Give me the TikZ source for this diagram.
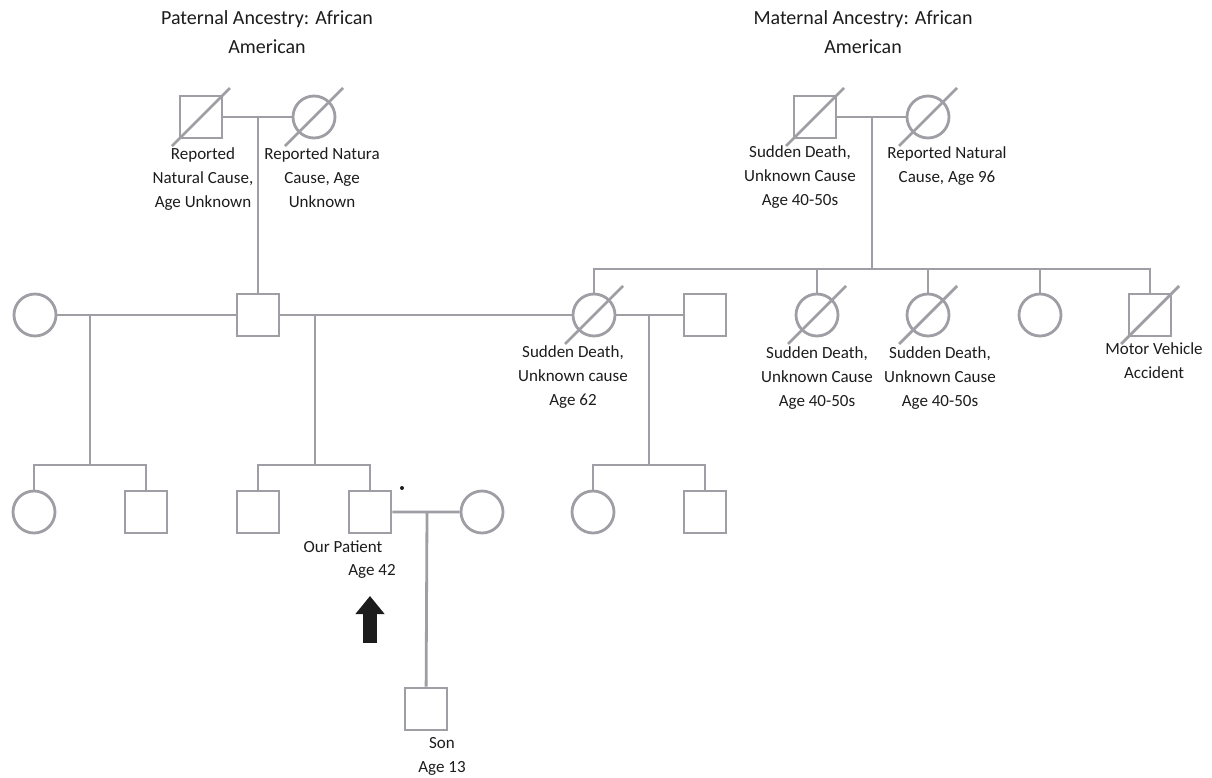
\documentclass[tikz,border=0pt]{standalone}
\usepackage{fontspec}
\setmainfont{Carlito}
\usetikzlibrary{arrows.meta}
\definecolor{pedgray}{RGB}{158,158,164}
\definecolor{txt}{RGB}{28,28,28}

\begin{document}
\begin{tikzpicture}[x=1pt,y=-1pt,line width=2.8pt,color=pedgray,
        male/.style={draw,rectangle,minimum size=42pt,inner sep=0pt},
        female/.style={draw,circle,minimum size=42pt,inner sep=0pt},
        lbl/.style={text=txt,align=center,inner sep=0pt,font=\fontsize{17}{24}\selectfont},
        ttl/.style={text=txt,align=center,inner sep=0pt,font=\fontsize{20}{29}\selectfont}]
        \useasboundingbox (0,0) rectangle (1212,777);

        \node[ttl] (patttl) at (267,32) {Paternal Ancestry: African\\American};
        \node[ttl] (matttl) at (863,32) {Maternal Ancestry: African\\American};

        % grandparents
        \node[male] (pgf) at (201,117) {};
        \node[female] (pgm) at (314,117) {};
        \node[male] (mgf) at (815,117) {};
        \node[female] (mgm) at (928,117) {};

        % parents row
        \node[female] (pw) at (35,315) {};
        \node[male] (pf) at (258,315) {};
        \node[female] (mo) at (594,315) {};
        \node[male] (mh) at (705,315) {};
        \node[female] (a1) at (817,315) {};
        \node[female] (a2) at (928,315) {};
        \node[female] (a3) at (1040,315) {};
        \node[male] (a4) at (1150,315) {};

        % children row
        \node[female] (c1) at (34,512) {};
        \node[male] (c2) at (146,512) {};
        \node[male] (b1) at (258,512) {};
        \node[male] (pt) at (370,512) {};
        \node[female] (wf) at (482,512) {};
        \node[female] (h1) at (593,512) {};
        \node[male] (h2) at (705,512) {};
        \node[male] (son) at (426,709) {};

        \foreach \n in {pgf,pgm,mgf,mgm,mo,a1,a2,a4}
            \draw (\n.center) ++(-29,29) -- ++(58,-58);

        \coordinate (pm) at (258,117);
        \draw (pgf) -- (pgm) (pm) -- (pf);
        \coordinate (mm) at (872,117);
        \coordinate (msib) at (872,269);
        \draw (mgf) -- (mgm) (mm) -- (msib);
        \draw (mo.north) |- (msib) -| (a4.north);
        \foreach \n in {a1,a2,a3} \draw (\n.north) -- (\n.north |- msib);

        \coordinate (m1) at (90,315);
        \coordinate (s1) at (90,465);
        \draw (pw) -- (pf) (m1) -- (s1);
        \draw (c1.north) |- (s1) -| (c2.north);

        \coordinate (m2) at (315,315);
        \coordinate (s2) at (315,465);
        \draw (pf) -- (mo) (m2) -- (s2);
        \draw (b1.north) |- (s2) -| (pt.north);

        \coordinate (m3) at (649,315);
        \coordinate (s3) at (649,465);
        \draw (mo) -- (mh) (m3) -- (s3);
        \draw (h1.north) |- (s3) -| (h2.north);

        \coordinate (m4) at (427,512);
        \draw (pt) -- (wf) (m4) -- (son);

        \node[circle,fill=txt,inner sep=0pt,minimum size=4pt] (dot) at (402,488) {};

        \coordinate (arrtail) at (370,643);
        \coordinate (arrtip) at (370,596);
        \draw[txt,line width=14pt,-{Triangle[width=28pt,length=18pt]}] (arrtail) -- (arrtip);

        \node[lbl] (pgfl) at (203,179) {Reported\\Natural Cause,\\Age Unknown};
        \node[lbl] (pgml) at (322,178) {Reported Natura\\Cause, Age\\Unknown};
        \node[lbl] (mgfl) at (800,177) {Sudden Death,\\Unknown Cause\\Age 40-50s};
        \node[lbl] (mgml) at (947,166) {Reported Natural\\Cause, Age 96};
        \node[lbl] (mol) at (573,377) {Sudden Death,\\Unknown cause\\Age 62};
        \node[lbl] (a1l) at (817,378) {Sudden Death,\\Unknown Cause\\Age 40-50s};
        \node[lbl] (a2l) at (940,378) {Sudden Death,\\Unknown Cause\\Age 40-50s};
        \node[lbl] (a4l) at (1154,361) {Motor Vehicle\\Accident};
        \node[lbl] (ptl) at (343,547) {Our Patient};
        \node[lbl] (agel) at (372,571) {Age 42};
        \node[lbl] (sonl) at (442,756) {Son\\Age 13};
    \end{tikzpicture}
\end{document}
